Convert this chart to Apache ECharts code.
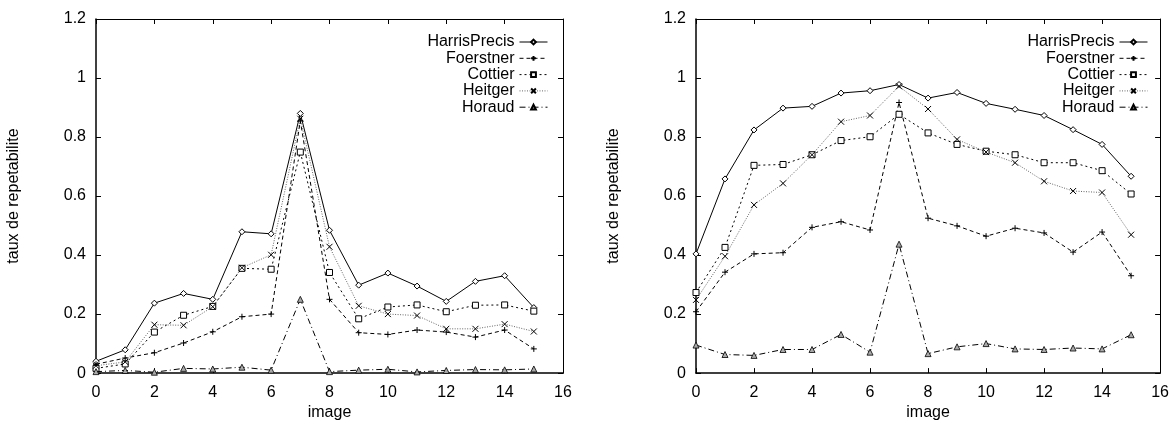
<!DOCTYPE html>
<html>
<head>
<meta charset="utf-8">
<script src="https://cdn.jsdelivr.net/npm/echarts@6/dist/echarts.min.js"></script>
<style>
html,body{margin:0;padding:0;background:#fff;}
#chart{width:1172px;height:426px;}
</style>
</head>
<body>
<div id="chart"></div>
<script>
const images = [0,1,2,3,4,5,6,7,8,9,10,11,12,13,14,15];
const xTicks = [0,2,4,6,8,10,12,14,16];
const yTicks = [0,0.2,0.4,0.6,0.8,1,1.2];
const seriesNames = ['HarrisPrecis','Foerstner','Cottier','Heitger','Horaud'];

// left panel
const leftHarris    = [0.040,0.079,0.237,0.270,0.250,0.479,0.472,0.880,0.484,0.298,0.339,0.295,0.243,0.311,0.330,0.222];
const leftFoerstner = [0.030,0.051,0.069,0.102,0.140,0.191,0.200,0.855,0.250,0.137,0.131,0.146,0.139,0.122,0.146,0.082];
const leftCottier   = [0.016,0.031,0.139,0.196,0.226,0.355,0.352,0.749,0.341,0.184,0.224,0.231,0.208,0.230,0.231,0.210];
const leftHeitger   = [0.025,0.038,0.164,0.162,0.225,0.357,0.401,0.862,0.428,0.228,0.200,0.195,0.150,0.150,0.166,0.141];
const leftHoraud    = [0.005,0.009,0.003,0.016,0.014,0.020,0.010,0.250,0.005,0.010,0.013,0.004,0.009,0.012,0.011,0.014];

// right panel
const rightHarris    = [0.404,0.658,0.824,0.898,0.904,0.949,0.957,0.978,0.932,0.951,0.914,0.894,0.873,0.825,0.775,0.667];
const rightFoerstner = [0.208,0.342,0.404,0.408,0.494,0.513,0.485,0.917,0.525,0.499,0.464,0.491,0.475,0.410,0.478,0.330];
const rightCottier   = [0.273,0.426,0.704,0.707,0.740,0.788,0.801,0.877,0.814,0.775,0.752,0.740,0.713,0.713,0.686,0.607];
const rightHeitger   = [0.248,0.396,0.570,0.643,0.740,0.852,0.873,0.972,0.895,0.792,0.749,0.713,0.650,0.617,0.612,0.469];
const rightHoraud    = [0.095,0.063,0.060,0.080,0.080,0.131,0.071,0.437,0.066,0.089,0.100,0.082,0.080,0.085,0.082,0.130];

const FONT = 'Liberation Sans';
const plusPath = 'path://M0,5L10,5M5,0L5,10';
const crossPath = 'path://M0,0L10,10M10,0L0,10';

const styles = {
  HarrisPrecis: {line:{color:'#000',width:1,type:'solid'}, symbol:'diamond', size:6, item:{color:'#fff',borderColor:'#000',borderWidth:1}},
  Foerstner:    {line:{color:'#000',width:1,type:[4,3]}, symbol:plusPath, size:6, item:{color:'#000',borderColor:'#000',borderWidth:1}},
  Cottier:      {line:{color:'#000',width:1,type:[2,3]}, symbol:'rect', size:6, item:{color:'#fff',borderColor:'#000',borderWidth:1}},
  Heitger:      {line:{color:'#666',width:1,type:[1,1.5]}, symbol:crossPath, size:6, item:{color:'#000',borderColor:'#000',borderWidth:1}},
  Horaud:       {line:{color:'#000',width:1,type:[6,3,1,3]}, symbol:'triangle', size:6, item:{color:'#aaa',borderColor:'#000',borderWidth:0.8}}
};

function pairs(vals){ return images.map((x,i)=>[x, vals[i]]); }

function makeSeries(name, vals, idx){
  const s = styles[name];
  return {
    name: name, type:'line', xAxisIndex: idx*2, yAxisIndex: idx*2,
    data: pairs(vals), symbol: s.symbol, symbolSize: s.size, showSymbol:true,
    lineStyle: s.line, itemStyle: s.item, z: 3
  };
}

const leftData = [leftHarris,leftFoerstner,leftCottier,leftHeitger,leftHoraud];
const rightData = [rightHarris,rightFoerstner,rightCottier,rightHeitger,rightHoraud];

const series = [];
seriesNames.forEach((n,i)=>series.push(makeSeries(n,leftData[i],0)));
seriesNames.forEach((n,i)=>series.push(makeSeries(n,rightData[i],1)));

function xAxes(gi){
  const base = {type:'value', gridIndex:gi, min:xTicks[0], max:xTicks[xTicks.length-1], interval:2,
    splitLine:{show:false}, axisTick:{inside:true, length:5, lineStyle:{color:'#000'}}};
  return [
    Object.assign({}, base, {position:'bottom', name:'image', nameLocation:'middle', nameGap:25,
      nameTextStyle:{fontFamily:FONT, fontSize:16, color:'#000'},
      axisLine:{show:true, onZero:false, lineStyle:{color:'#000', width:1.5}},
      axisLabel:{fontFamily:FONT, fontSize:16, color:'#000', margin:11}}),
    Object.assign({}, base, {position:'top', axisLine:{show:true, onZero:false, lineStyle:{color:'#000', width:1}},
      axisLabel:{show:false}})
  ];
}
function yAxes(gi){
  const base = {type:'value', gridIndex:gi, min:yTicks[0], max:yTicks[yTicks.length-1], interval:0.2,
    splitLine:{show:false}, axisTick:{inside:true, length:5, lineStyle:{color:'#000'}}};
  return [
    Object.assign({}, base, {position:'left', name:'taux de repetabilite', nameLocation:'middle', nameGap:74,
      nameTextStyle:{fontFamily:FONT, fontSize:16, color:'#000'},
      axisLine:{show:true, onZero:false, lineStyle:{color:'#000', width:1.5}},
      axisLabel:{fontFamily:FONT, fontSize:16, color:'#000', margin:10}}),
    Object.assign({}, base, {position:'right', axisLine:{show:true, onZero:false, lineStyle:{color:'#000', width:1}},
      axisLabel:{show:false}})
  ];
}

function legend(right){
  return {
    orient:'vertical', right:right, top:34, align:'right', padding:0,
    itemWidth:28, itemHeight:6, itemGap:0.3,
    lineStyle:{width:1},
    textStyle:{fontFamily:FONT, fontSize:16, color:'#000', lineHeight:16},
    selectedMode:false,
    data: seriesNames
  };
}

const option = {
  animation:false,
  backgroundColor:'#fff',
  grid:[
    {left:96, right:609, top:19, bottom:41},
    {left:696, right:9, top:19, bottom:41}
  ],
  xAxis: xAxes(0).concat(xAxes(1)),
  yAxis: yAxes(0).concat(yAxes(1)),
  legend:[legend(624), legend(24)],
  series: series
};

const chart = echarts.init(document.getElementById('chart'), null, {renderer:'canvas'});
chart.setOption(option);
</script>
</body>
</html>
